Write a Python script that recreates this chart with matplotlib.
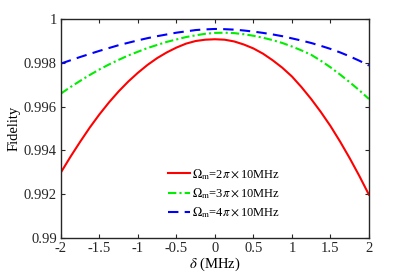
import matplotlib
matplotlib.use("Agg")
import matplotlib.pyplot as plt
from matplotlib.ticker import FuncFormatter

plt.rcParams['font.family'] = ['Liberation Serif', 'DejaVu Serif']
plt.rcParams['mathtext.fontset'] = 'stix'
plt.rcParams['axes.unicode_minus'] = False

delta = [-2.0, -1.875, -1.75, -1.625, -1.5, -1.375, -1.25, -1.125, -1.0,
         -0.875, -0.75, -0.625, -0.5, -0.375, -0.25, -0.125, 0.0,
         0.125, 0.25, 0.375, 0.5, 0.625, 0.75, 0.875, 1.0,
         1.125, 1.25, 1.375, 1.5, 1.625, 1.75, 1.875, 2.0]
fid_2pi = [0.99300, 0.99372, 0.99440, 0.99505, 0.99565, 0.99620, 0.99670, 0.99715, 0.99755,
           0.99791, 0.99822, 0.99848, 0.99870, 0.99888, 0.99900, 0.99906, 0.99908,
           0.99906, 0.99898, 0.99884, 0.99866, 0.99842, 0.99812, 0.99778, 0.99738,
           0.99689, 0.99635, 0.99576, 0.99512, 0.99441, 0.99365, 0.99284, 0.99198]
fid_3pi = [0.99660, 0.99690, 0.99718, 0.99745, 0.99770, 0.99793, 0.99814, 0.99834, 0.99851,
           0.99868, 0.99882, 0.99896, 0.99907, 0.99918, 0.99926, 0.99933, 0.99937,
           0.99938, 0.99936, 0.99931, 0.99924, 0.99915, 0.99904, 0.99891, 0.99875,
           0.99857, 0.99837, 0.99810, 0.99780, 0.99747, 0.99712, 0.99675, 0.99635]
fid_4pi = [0.99797, 0.99812, 0.99827, 0.99841, 0.99855, 0.99868, 0.99881, 0.99892, 0.99903,
           0.99913, 0.99922, 0.99930, 0.99938, 0.99944, 0.99950, 0.99953, 0.99955,
           0.99954, 0.99952, 0.99948, 0.99943, 0.99937, 0.99930, 0.99922, 0.99912,
           0.99902, 0.99891, 0.99878, 0.99864, 0.99848, 0.99830, 0.99810, 0.99788]
labels = [r'$\Omega_{\rm m}$=2$\pi\times$10MHz',
          r'$\Omega_{\rm m}$=3$\pi\times$10MHz',
          r'$\Omega_{\rm m}$=4$\pi\times$10MHz']
xticks = [-2, -1.5, -1, -0.5, 0, 0.5, 1, 1.5, 2]
yticks = [0.99, 0.992, 0.994, 0.996, 0.998, 1.0]

fig = plt.figure(figsize=(4.09, 2.73), dpi=100)
ax = fig.add_axes([0.149, 0.128, 0.753, 0.802])

ax.plot(delta, fid_2pi, color='#ff0000', lw=1.5, ls='-', label=labels[0])
ax.plot(delta, fid_3pi, color='#00ee00', lw=1.5, ls=(0, (4, 1.5, 1, 1.5)), label=labels[1])
ax.plot(delta, fid_4pi, color='#0000ff', lw=1.5, ls=(0, (5, 3)), label=labels[2])

ax.set_xlim(-2, 2)
ax.set_ylim(0.99, 1.0)
ax.set_xticks(xticks)
ax.set_yticks(yticks)
ax.xaxis.set_major_formatter(FuncFormatter(lambda v, p: '%g' % v))
ax.yaxis.set_major_formatter(FuncFormatter(lambda v, p: '%g' % round(v, 4)))
ax.tick_params(direction='in', top=True, right=True, length=3, width=0.8,
               labelsize=10.5, colors='#262626', pad=3)
for s in ax.spines.values():
    s.set_linewidth(1.0)
    s.set_color('#262626')

ax.set_xlabel(r'$\delta$ (MHz)', fontsize=10.5, labelpad=0)
ax.set_ylabel('Fidelity', fontsize=10.5, labelpad=2)

leg = ax.legend(loc='lower center', bbox_to_anchor=(0.53, 0.06), frameon=False,
                fontsize=9, handlelength=1.7, handletextpad=0.2, labelspacing=0.35,
                borderaxespad=0)

fig.savefig('out.png', dpi=100)
